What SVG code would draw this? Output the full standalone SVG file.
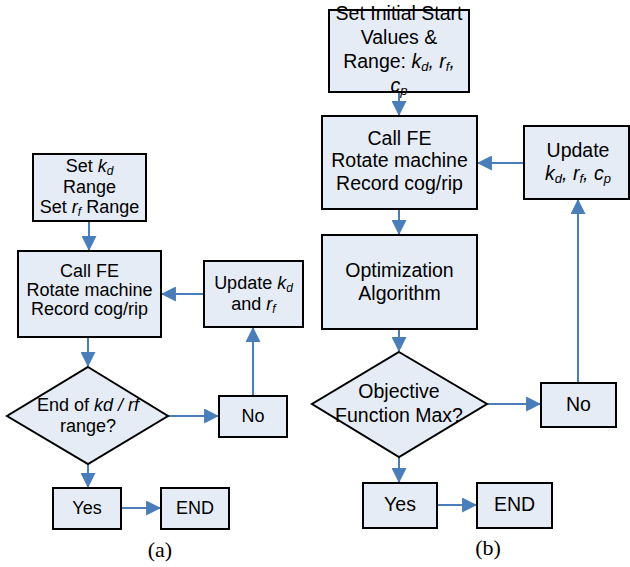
<svg xmlns="http://www.w3.org/2000/svg" width="630" height="567" viewBox="0 0 630 567">
<style>
.b{fill:#e6ecf6;stroke:#000;stroke-width:2}
.t{font-family:"Liberation Sans",Arial,sans-serif;fill:#000;text-anchor:middle}
.l{font-size:18px}
.r{font-size:19.5px}
.i{font-style:italic}
.c{fill:none;stroke:#4a7ebb;stroke-width:2}
.cap{font-family:"Liberation Serif","Times New Roman",serif;font-size:22px;text-anchor:middle}
</style>
<defs>
<marker id="ah" markerUnits="userSpaceOnUse" markerWidth="15" markerHeight="15" viewBox="0 0 14 14" refX="13" refY="7" orient="auto">
<path d="M0,0 L14,7 L0,14 Z" fill="#4a7ebb"/>
</marker>
</defs>
<g id="connectors">
<path class="c" d="M89,221 V250" marker-end="url(#ah)"/>
<path class="c" d="M204,294 H162" marker-end="url(#ah)"/>
<path class="c" d="M88,337 V366" marker-end="url(#ah)"/>
<path class="c" d="M168,416 H218" marker-end="url(#ah)"/>
<path class="c" d="M253,396 V328" marker-end="url(#ah)"/>
<path class="c" d="M88,464 V487" marker-end="url(#ah)"/>
<path class="c" d="M121,508 H160" marker-end="url(#ah)"/>
<path class="c" d="M399,92 V115" marker-end="url(#ah)"/>
<path class="c" d="M524,163 H478" marker-end="url(#ah)"/>
<path class="c" d="M399,209 V234" marker-end="url(#ah)"/>
<path class="c" d="M399,329 V351" marker-end="url(#ah)"/>
<path class="c" d="M487,404 H540" marker-end="url(#ah)"/>
<path class="c" d="M578,383 V200" marker-end="url(#ah)"/>
<path class="c" d="M399,457 V482" marker-end="url(#ah)"/>
<path class="c" d="M437,505 H476" marker-end="url(#ah)"/>
</g>
<g id="a-set">
<rect class="b" x="33" y="154" width="113" height="67"/>
<text class="t l" x="89.5" y="172">Set <tspan class="i">k<tspan font-size="12" dy="3">d</tspan></tspan></text>
<text class="t l" x="89.5" y="193">Range</text>
<text class="t l" x="89.5" y="213">Set <tspan class="i">r<tspan font-size="12" dy="3">f</tspan></tspan><tspan dy="-3"> Range</tspan></text>
</g>
<g id="a-call">
<rect class="b" x="18" y="251" width="143" height="86"/>
<text class="t l" x="89.5" y="277">Call FE</text>
<text class="t l" x="89.5" y="296">Rotate machine</text>
<text class="t l" x="89.5" y="315">Record cog/rip</text>
</g>
<g id="a-update">
<rect class="b" x="204" y="261" width="99" height="66"/>
<text class="t l" x="253.5" y="289">Update <tspan class="i">k<tspan font-size="12" dy="3">d</tspan></tspan></text>
<text class="t l" x="253.5" y="310">and <tspan class="i">r<tspan font-size="12" dy="3">f</tspan></tspan></text>
</g>
<g id="a-decision">
<polygon class="b" points="88,367 168,416 88,464 7,416"/>
<text class="t l" x="88" y="411">End of <tspan class="i">kd / rf</tspan></text>
<text class="t l" x="88" y="432">range?</text>
</g>
<g id="a-no">
<rect class="b" x="219" y="396" width="68" height="41"/>
<text class="t l" x="253" y="422">No</text>
</g>
<g id="a-yes">
<rect class="b" x="53" y="488" width="68" height="41"/>
<text class="t l" x="87" y="514">Yes</text>
</g>
<g id="a-end">
<rect class="b" x="161" y="488" width="68" height="41"/>
<text class="t l" x="195" y="514">END</text>
</g>
<text class="cap" x="160" y="557">(a)</text>
<g id="b-set">
<rect class="b" x="329" y="10" width="140" height="82"/>
<text class="t r" x="399" y="20">Set Initial Start</text>
<text class="t r" x="399" y="44">Values &amp;</text>
<text class="t r" x="399" y="68">Range: <tspan class="i">k<tspan font-size="13" dy="3">d</tspan><tspan dy="-3">, r</tspan><tspan font-size="13" dy="3">f</tspan><tspan dy="-3">,</tspan></tspan></text>
<text class="t r" x="399" y="92"><tspan class="i">c<tspan font-size="13" dy="3">p</tspan></tspan></text>
</g>
<g id="b-call">
<rect class="b" x="322" y="116" width="155" height="93"/>
<text class="t r" x="399.5" y="145">Call FE</text>
<text class="t r" x="399.5" y="167">Rotate machine</text>
<text class="t r" x="399.5" y="190">Record cog/rip</text>
</g>
<g id="b-update">
<rect class="b" x="524" y="126" width="105" height="73"/>
<text class="t r" x="578" y="157">Update</text>
<text class="t r" x="578" y="180"><tspan class="i">k<tspan font-size="13" dy="3">d</tspan><tspan dy="-3">, r</tspan><tspan font-size="13" dy="3">f</tspan><tspan dy="-3">, c</tspan><tspan font-size="13" dy="3">p</tspan></tspan></text>
</g>
<g id="b-opt">
<rect class="b" x="322" y="235" width="155" height="94"/>
<text class="t r" x="399.5" y="277">Optimization</text>
<text class="t r" x="399.5" y="300">Algorithm</text>
</g>
<g id="b-decision">
<polygon class="b" points="399,352 487,404 399,457 312,404"/>
<text class="t r" x="399" y="398">Objective</text>
<text class="t r" x="399" y="422">Function Max?</text>
</g>
<g id="b-no">
<rect class="b" x="541" y="383" width="75" height="44"/>
<text class="t r" x="578.5" y="411">No</text>
</g>
<g id="b-yes">
<rect class="b" x="363" y="483" width="74" height="45"/>
<text class="t r" x="400" y="511">Yes</text>
</g>
<g id="b-end">
<rect class="b" x="477" y="483" width="75" height="45"/>
<text class="t r" x="514.5" y="511">END</text>
</g>
<text class="cap" x="488" y="555">(b)</text>
</svg>
